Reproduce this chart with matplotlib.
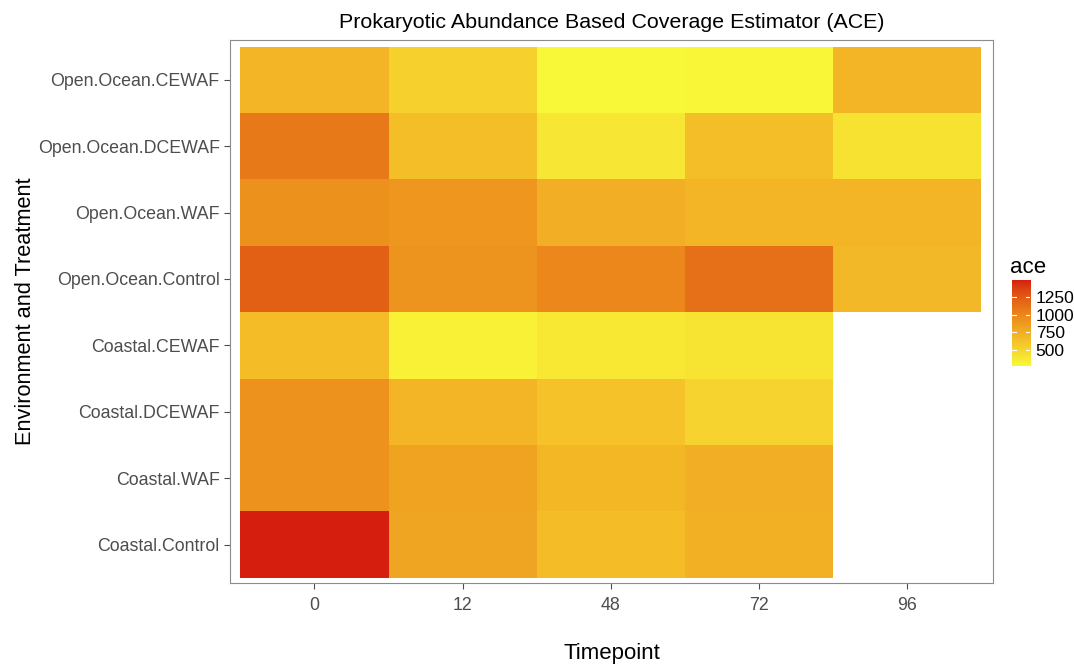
import matplotlib
matplotlib.use("Agg")
import matplotlib.pyplot as plt
import numpy as np
from matplotlib.colors import ListedColormap, Normalize

plt.rcParams['font.family'] = ['Liberation Sans', 'DejaVu Sans']

timepoints = ["0", "12", "48", "72", "96"]
# rows from bottom to top
groups = ["Coastal.Control", "Coastal.WAF", "Coastal.DCEWAF", "Coastal.CEWAF",
          "Open.Ocean.Control", "Open.Ocean.WAF", "Open.Ocean.DCEWAF", "Open.Ocean.CEWAF"]

coastal_control = [1490, 810, 660, 735, np.nan]
coastal_waf = [930, 835, 700, 750, np.nan]
coastal_dcewaf = [930, 720, 625, 515, np.nan]
coastal_cewaf = [660, 320, 385, 405, np.nan]
ocean_control = [1220, 920, 1000, 1130, 690]
ocean_waf = [935, 905, 750, 710, 710]
ocean_dcewaf = [1080, 650, 395, 650, 430]
ocean_cewaf = [720, 540, 275, 290, 715]

ace = np.array([coastal_control, coastal_waf, coastal_dcewaf, coastal_cewaf,
                ocean_control, ocean_waf, ocean_dcewaf, ocean_cewaf])


# gradient low -> high interpolated in CIELAB space
def srgb_to_lab(rgb):
    c = np.asarray(rgb, float) / 255.0
    c = np.where(c > 0.04045, ((c + 0.055) / 1.055) ** 2.4, c / 12.92)
    M = np.array([[0.4124, 0.3576, 0.1805],
                  [0.2126, 0.7152, 0.0722],
                  [0.0193, 0.1192, 0.9505]])
    xyz = M @ c / np.array([0.95047, 1.0, 1.08883])
    f = np.where(xyz > 0.008856, np.cbrt(xyz), 7.787 * xyz + 16 / 116)
    return np.array([116 * f[1] - 16, 500 * (f[0] - f[1]), 200 * (f[1] - f[2])])


def lab_to_srgb(lab):
    L, a, b = lab
    fy = (L + 16) / 116
    fx = fy + a / 500
    fz = fy - b / 200
    f = np.array([fx, fy, fz])
    xyz = np.where(f ** 3 > 0.008856, f ** 3, (f - 16 / 116) / 7.787)
    xyz = xyz * np.array([0.95047, 1.0, 1.08883])
    Minv = np.array([[3.2406, -1.5372, -0.4986],
                     [-0.9689, 1.8758, 0.0415],
                     [0.0557, -0.2040, 1.0570]])
    c = Minv @ xyz
    c = np.where(c > 0.0031308, 1.055 * np.clip(c, 0, None) ** (1 / 2.4) - 0.055, 12.92 * c)
    return np.clip(c, 0, 1)


low = srgb_to_lab((248, 248, 56))
high = srgb_to_lab((214, 30, 14))
ramp = [lab_to_srgb(low + (high - low) * t) for t in np.linspace(0, 1, 256)]
cmap = ListedColormap(ramp)
cmap.set_bad((1, 1, 1, 0))

vmin, vmax = np.nanmin(ace), np.nanmax(ace)
norm = Normalize(vmin=vmin, vmax=vmax)

fig = plt.figure(figsize=(10.74, 6.68), dpi=100)
ax = fig.add_axes([0.2142, 0.1272, 0.7104, 0.8129])

x = np.arange(len(timepoints) + 1) - 0.5
y = np.arange(len(groups) + 1) - 0.5
ax.pcolormesh(x, y, np.ma.masked_invalid(ace), cmap=cmap, norm=norm)

ax.set_xlim(-0.57, len(timepoints) - 0.42)
ax.set_ylim(-0.58, len(groups) - 0.4)
ax.set_xticks(range(len(timepoints)))
ax.set_xticklabels(timepoints)
ax.set_yticks(range(len(groups)))
ax.set_yticklabels(groups)
ax.tick_params(colors="#4d4d4d", labelsize=12.8, length=4, width=0.8)
ax.tick_params(axis="x", pad=6)
for s in ax.spines.values():
    s.set_color("#8c8c8c")
    s.set_linewidth(0.8)

ax.set_title("Prokaryotic Abundance Based Coverage Estimator (ACE)", fontsize=15.4, pad=9)
ax.set_xlabel("Timepoint", fontsize=16, labelpad=21)
ax.set_ylabel("Environment and Treatment", fontsize=15.7, labelpad=1.5)

# colorbar legend
cax = fig.add_axes([0.9423, 0.4521, 0.0168, 0.1287])
grad = np.linspace(vmin, vmax, 300).reshape(-1, 1)
cax.imshow(grad, cmap=cmap, norm=norm, aspect="auto", origin="lower",
           extent=[0, 1, vmin, vmax])
cax.set_xlim(0, 1)
cax.set_ylim(vmin, vmax)
cax.set_xticks([])
cbar_ticks = [500, 750, 1000, 1250]
cax.set_yticks(cbar_ticks)
cax.yaxis.tick_right()
cax.tick_params(axis="y", length=0, labelsize=12.5, pad=4, labelcolor="black")
for t in cbar_ticks:
    cax.plot([0, 0.2], [t, t], color="white", lw=0.8)
    cax.plot([0.8, 1], [t, t], color="white", lw=0.8)
for s in cax.spines.values():
    s.set_visible(False)
fig.text(0.9404, 0.584, "ace", fontsize=16, ha="left", va="bottom")

fig.savefig("out.png", dpi=100)
